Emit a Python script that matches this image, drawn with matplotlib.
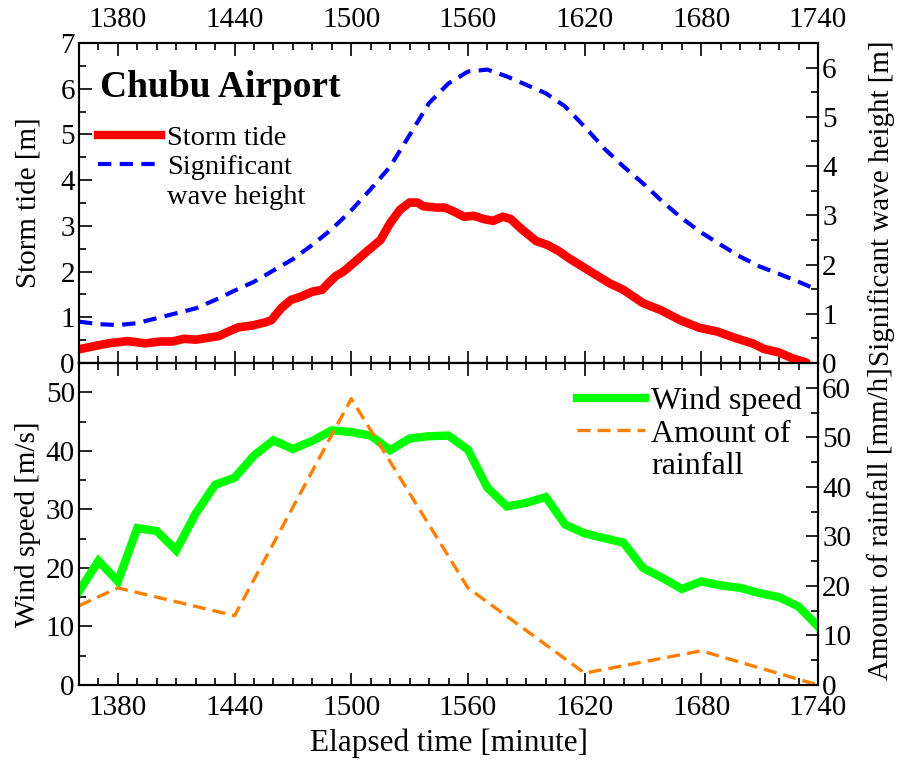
import matplotlib
matplotlib.use("Agg")
import matplotlib.pyplot as plt
from matplotlib.ticker import MultipleLocator
from matplotlib.lines import Line2D

plt.rcParams['font.family'] = ['Liberation Serif', 'DejaVu Serif']
plt.rcParams['mathtext.fontset'] = 'stix'

# ---------------- data ----------------
tide_time = [1360, 1368, 1375, 1385, 1394, 1402, 1408, 1414, 1420, 1426, 1432, 1437,
             1442, 1449, 1456, 1459, 1464, 1469, 1474, 1480, 1485, 1489, 1492, 1496,
             1501, 1508, 1515, 1520, 1525, 1530, 1534, 1537, 1544, 1548, 1552, 1558,
             1563, 1568, 1573, 1578, 1582, 1587, 1595, 1601, 1607, 1612, 1623, 1633,
             1640, 1650, 1659, 1669, 1679, 1688, 1698, 1707, 1712, 1720, 1727, 1734]
tide_val = [0.30, 0.37, 0.43, 0.48, 0.43, 0.47, 0.47, 0.53, 0.51, 0.55, 0.59, 0.69,
            0.78, 0.82, 0.89, 0.94, 1.20, 1.38, 1.45, 1.56, 1.60, 1.78, 1.90, 2.00,
            2.18, 2.44, 2.69, 3.06, 3.35, 3.51, 3.51, 3.43, 3.40, 3.40, 3.33, 3.20,
            3.22, 3.15, 3.11, 3.20, 3.15, 2.95, 2.67, 2.58, 2.44, 2.29, 2.00, 1.74,
            1.60, 1.31, 1.16, 0.94, 0.77, 0.69, 0.54, 0.42, 0.31, 0.23, 0.10, 0.01]

wave_time = list(range(1360, 1741, 10))
wave_val = [0.84, 0.79, 0.77, 0.81, 0.91, 1.01, 1.11, 1.28, 1.47, 1.65, 1.88, 2.11,
            2.40, 2.72, 3.10, 3.53, 3.99, 4.63, 5.28, 5.68, 5.92, 5.96, 5.82, 5.65,
            5.48, 5.21, 4.80, 4.36, 3.99, 3.65, 3.28, 2.94, 2.65, 2.40, 2.16, 1.96,
            1.81, 1.65, 1.48]

wind_time = list(range(1360, 1741, 10))
wind_val = [16.0, 21.2, 17.7, 26.8, 26.3, 23.0, 29.3, 34.2, 35.4, 39.2, 41.8, 40.3,
            41.7, 43.5, 43.2, 42.6, 40.1, 42.1, 42.5, 42.6, 40.2, 33.7, 30.5, 31.1,
            32.1, 27.4, 25.9, 25.1, 24.3, 20.0, 18.3, 16.4, 17.7, 17.0, 16.6, 15.7,
            15.0, 13.4, 10.0]

rain_time = [1360, 1380, 1440, 1500, 1560, 1620, 1680, 1740]
rain_val = [16.0, 19.6, 14.0, 57.8, 19.6, 2.4, 6.9, 0.0]

x_ticks = [1380, 1440, 1500, 1560, 1620, 1680, 1740]

# ---------------- figure ----------------
fig = plt.figure(figsize=(8.99, 7.65), dpi=100)
L, R = 79 / 899, 818 / 899
y_top, y_mid, y_bot = 1 - 43 / 765, 1 - 363 / 765, 1 - 685 / 765
ax1 = fig.add_axes([L, y_mid, R - L, y_top - y_mid])
ax2 = fig.add_axes([L, y_bot, R - L, y_mid - y_bot])
ax1r = ax1.twinx()
ax2r = ax2.twinx()

TICK_FS = 21
LAB_FS = 21
SPW = 1.5

for ax in (ax1, ax2, ax1r, ax2r):
    for s in ax.spines.values():
        s.set_linewidth(SPW)
    ax.set_xlim(1360, 1740)
    ax.set_xticks(x_ticks)
    ax.xaxis.set_minor_locator(MultipleLocator(10))
    ax.tick_params(which='both', direction='in', width=1.2, labelsize=TICK_FS)
    ax.tick_params(which='major', length=9)
    ax.tick_params(which='minor', length=5)

for ax in (ax1, ax2):
    ax.tick_params(axis='x', which='both', top=True, bottom=True)
    ax.tick_params(axis='y', pad=3)
for ax in (ax1r, ax2r):
    ax.tick_params(axis='y', pad=3)

ax1.tick_params(axis='x', labeltop=True, labelbottom=False, pad=7)
ax2.tick_params(axis='x', labeltop=False, labelbottom=True, pad=7.5)
ax1r.tick_params(axis='x', labeltop=False, labelbottom=False)
ax2r.tick_params(axis='x', labeltop=False, labelbottom=False)

# top panel
ax1.set_ylim(0, 7)
ax1.yaxis.set_major_locator(MultipleLocator(1))
ax1.yaxis.set_minor_locator(MultipleLocator(0.5))
ax1r.set_ylim(0, 6.5)
ax1r.yaxis.set_major_locator(MultipleLocator(1))
ax1r.yaxis.set_minor_locator(MultipleLocator(0.5))

ax1.plot(tide_time, tide_val, color='#ff0000', lw=6.2, solid_capstyle='round',
         solid_joinstyle='round', zorder=3)
ax1r.plot(wave_time, wave_val, color='#0000ff', lw=3, dashes=(3.2, 2.0))

# bottom panel
ax2.set_ylim(0, 55)
ax2.set_yticks([0, 10, 20, 30, 40, 50])
ax2.yaxis.set_minor_locator(MultipleLocator(5))
ax2r.set_ylim(0, 65)
ax2r.set_yticks([0, 10, 20, 30, 40, 50, 60])
ax2r.yaxis.set_minor_locator(MultipleLocator(5))

ax2.plot(wind_time, wind_val, color='#00ff00', lw=6, solid_joinstyle='miter', zorder=3)
ax2r.plot(rain_time, rain_val, color='#ff7f00', lw=2.4, dashes=(3.9, 2.1))

# labels
ax1.set_ylabel('Storm tide [m]', fontsize=LAB_FS, va='center')
ax1.yaxis.set_label_coords(-0.069, 0.5)
ax1r.set_ylabel('Significant wave height [m]', fontsize=LAB_FS, va='center')
ax1r.yaxis.set_label_coords(1.086, 0.5)
ax2.set_ylabel('Wind speed [m/s]', fontsize=LAB_FS, va='center')
ax2.yaxis.set_label_coords(-0.069, 0.5)
ax2r.set_ylabel('Amount of rainfall [mm/h]', fontsize=LAB_FS, va='center')
ax2r.yaxis.set_label_coords(1.086, 0.5)
ax2.set_xlabel('Elapsed time [minute]', fontsize=22.5, va='center')
ax2.xaxis.set_label_coords(0.5, -0.18)

ax1r.text(0.028, 0.831, 'Chubu Airport', transform=ax1.transAxes, fontsize=27,
          fontweight='bold', va='baseline', ha='left')

# legends
h1 = [Line2D([], [], color='#ff0000', lw=6),
      Line2D([], [], color='#0000ff', lw=3, dashes=(3.2, 2.0)),
      Line2D([], [], color='none', lw=0)]
ax1r.legend(h1, ['Storm tide', 'Significant', 'wave height'], loc='upper left',
            bbox_to_anchor=(0.026, 0.745), frameon=False, fontsize=20.5,
            handlelength=2.2, handletextpad=0.21, labelspacing=0.13,
            borderpad=0, borderaxespad=0)

h2 = [Line2D([], [], color='#00ff00', lw=6),
      Line2D([], [], color='#ff7f00', lw=2.4, dashes=(3.9, 2.1)),
      Line2D([], [], color='none', lw=0)]
ax2r.legend(h2, ['Wind speed', 'Amount of', 'rainfall'], loc='upper left',
            bbox_to_anchor=(0.674, 0.928), frameon=False, fontsize=23,
            handlelength=2.13, handletextpad=0.19, labelspacing=0.11,
            borderpad=0, borderaxespad=0)

fig.savefig('out.png', dpi=100)
